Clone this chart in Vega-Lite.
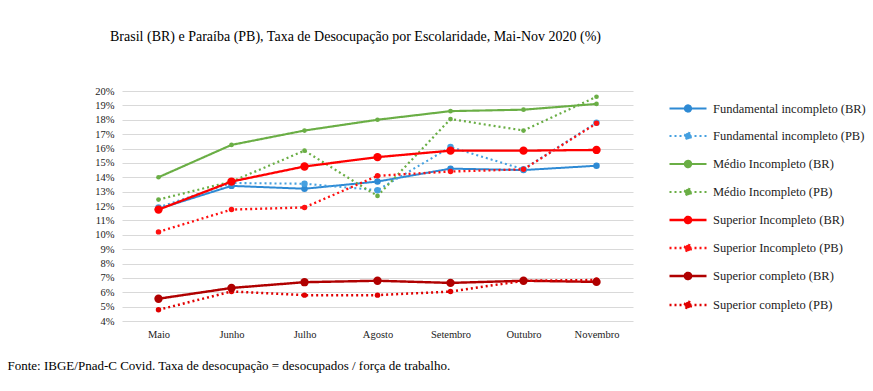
{
  "$schema": "https://vega.github.io/schema/vega-lite/v6.json",
  "width": 511,
  "height": 230,
  "autosize": {"type": "none"},
  "padding": {"left": 122, "top": 91, "right": 240, "bottom": 70},
  "background": "white",
  "title": {
    "text": "Brasil (BR) e Paraíba (PB), Taxa de Desocupação por Escolaridade, Mai-Nov 2020 (%)",
    "anchor": "middle",
    "frame": "group",
    "dx": -22,
    "offset": 42,
    "font": "Liberation Serif",
    "fontSize": 14,
    "fontWeight": "normal",
    "color": "#000000"
  },
  "config": {
    "view": {"stroke": null},
    "font": "Liberation Serif"
  },
  "data": {
    "values": [
      {"mes": "Maio", "serie": "Fundamental incompleto (BR)", "v": 11.8},
      {"mes": "Junho", "serie": "Fundamental incompleto (BR)", "v": 13.4},
      {"mes": "Julho", "serie": "Fundamental incompleto (BR)", "v": 13.2},
      {"mes": "Agosto", "serie": "Fundamental incompleto (BR)", "v": 13.7},
      {"mes": "Setembro", "serie": "Fundamental incompleto (BR)", "v": 14.6},
      {"mes": "Outubro", "serie": "Fundamental incompleto (BR)", "v": 14.5},
      {"mes": "Novembro", "serie": "Fundamental incompleto (BR)", "v": 14.8},
      {"mes": "Maio", "serie": "Fundamental incompleto (PB)", "v": 11.9},
      {"mes": "Junho", "serie": "Fundamental incompleto (PB)", "v": 13.6},
      {"mes": "Julho", "serie": "Fundamental incompleto (PB)", "v": 13.55},
      {"mes": "Agosto", "serie": "Fundamental incompleto (PB)", "v": 13.1},
      {"mes": "Setembro", "serie": "Fundamental incompleto (PB)", "v": 16.1},
      {"mes": "Outubro", "serie": "Fundamental incompleto (PB)", "v": 14.55},
      {"mes": "Novembro", "serie": "Fundamental incompleto (PB)", "v": 17.8},
      {"mes": "Maio", "serie": "Médio Incompleto (BR)", "v": 14.0},
      {"mes": "Junho", "serie": "Médio Incompleto (BR)", "v": 16.25},
      {"mes": "Julho", "serie": "Médio Incompleto (BR)", "v": 17.25},
      {"mes": "Agosto", "serie": "Médio Incompleto (BR)", "v": 18.0},
      {"mes": "Setembro", "serie": "Médio Incompleto (BR)", "v": 18.6},
      {"mes": "Outubro", "serie": "Médio Incompleto (BR)", "v": 18.7},
      {"mes": "Novembro", "serie": "Médio Incompleto (BR)", "v": 19.1},
      {"mes": "Maio", "serie": "Médio Incompleto (PB)", "v": 12.45},
      {"mes": "Junho", "serie": "Médio Incompleto (PB)", "v": 13.7},
      {"mes": "Julho", "serie": "Médio Incompleto (PB)", "v": 15.85},
      {"mes": "Agosto", "serie": "Médio Incompleto (PB)", "v": 12.7},
      {"mes": "Setembro", "serie": "Médio Incompleto (PB)", "v": 18.05},
      {"mes": "Outubro", "serie": "Médio Incompleto (PB)", "v": 17.25},
      {"mes": "Novembro", "serie": "Médio Incompleto (PB)", "v": 19.6},
      {"mes": "Maio", "serie": "Superior Incompleto (BR)", "v": 11.75},
      {"mes": "Junho", "serie": "Superior Incompleto (BR)", "v": 13.7},
      {"mes": "Julho", "serie": "Superior Incompleto (BR)", "v": 14.75},
      {"mes": "Agosto", "serie": "Superior Incompleto (BR)", "v": 15.4},
      {"mes": "Setembro", "serie": "Superior Incompleto (BR)", "v": 15.85},
      {"mes": "Outubro", "serie": "Superior Incompleto (BR)", "v": 15.85},
      {"mes": "Novembro", "serie": "Superior Incompleto (BR)", "v": 15.9},
      {"mes": "Maio", "serie": "Superior Incompleto (PB)", "v": 10.2},
      {"mes": "Junho", "serie": "Superior Incompleto (PB)", "v": 11.75},
      {"mes": "Julho", "serie": "Superior Incompleto (PB)", "v": 11.9},
      {"mes": "Agosto", "serie": "Superior Incompleto (PB)", "v": 14.1},
      {"mes": "Setembro", "serie": "Superior Incompleto (PB)", "v": 14.4},
      {"mes": "Outubro", "serie": "Superior Incompleto (PB)", "v": 14.55},
      {"mes": "Novembro", "serie": "Superior Incompleto (PB)", "v": 17.75},
      {"mes": "Maio", "serie": "Superior completo (BR)", "v": 5.55},
      {"mes": "Junho", "serie": "Superior completo (BR)", "v": 6.3},
      {"mes": "Julho", "serie": "Superior completo (BR)", "v": 6.7},
      {"mes": "Agosto", "serie": "Superior completo (BR)", "v": 6.8},
      {"mes": "Setembro", "serie": "Superior completo (BR)", "v": 6.65},
      {"mes": "Outubro", "serie": "Superior completo (BR)", "v": 6.8},
      {"mes": "Novembro", "serie": "Superior completo (BR)", "v": 6.72},
      {"mes": "Maio", "serie": "Superior completo (PB)", "v": 4.78},
      {"mes": "Junho", "serie": "Superior completo (PB)", "v": 6.05},
      {"mes": "Julho", "serie": "Superior completo (PB)", "v": 5.8},
      {"mes": "Agosto", "serie": "Superior completo (PB)", "v": 5.8},
      {"mes": "Setembro", "serie": "Superior completo (PB)", "v": 6.05},
      {"mes": "Outubro", "serie": "Superior completo (PB)", "v": 6.8},
      {"mes": "Novembro", "serie": "Superior completo (PB)", "v": 6.85}
    ]
  },
  "encoding": {
    "x": {
      "field": "mes",
      "type": "nominal",
      "sort": ["Maio", "Junho", "Julho", "Agosto", "Setembro", "Outubro", "Novembro"],
      "scale": {"paddingInner": 0, "paddingOuter": 0},
      "axis": {
        "title": "Fonte: IBGE/Pnad-C Covid. Taxa de desocupação = desocupados / força de trabalho.",
        "titleFont": "Liberation Serif",
        "titleFontSize": 13,
        "titleFontWeight": "normal",
        "titleColor": "#000000",
        "titleAnchor": "start",
        "titleAlign": "left",
        "titleX": -115,
        "titleY": 38,
        "labelAngle": 0,
        "labelFont": "Liberation Serif",
        "labelFontSize": 10.5,
        "labelColor": "#222222",
        "labelPadding": 8,
        "ticks": false,
        "domain": false,
        "grid": false
      }
    },
    "y": {
      "field": "v",
      "type": "quantitative",
      "scale": {"domain": [4, 20], "nice": false, "zero": false},
      "axis": {
        "title": null,
        "values": [4,5,6,7,8,9,10,11,12,13,14,15,16,17,18,19,20],
        "labelExpr": "datum.value + '%'",
        "labelFont": "Liberation Serif",
        "labelFontSize": 10.5,
        "labelColor": "#222222",
        "labelPadding": 8,
        "ticks": false,
        "domain": false,
        "grid": true,
        "gridColor": "#d9d9d9",
        "gridWidth": 1
      }
    },
    "color": {
      "field": "serie",
      "type": "nominal",
      "sort": null,
      "scale": {
        "domain": ["Fundamental incompleto (BR)", "Fundamental incompleto (PB)", "Médio Incompleto (BR)", "Médio Incompleto (PB)", "Superior Incompleto (BR)", "Superior Incompleto (PB)", "Superior completo (BR)", "Superior completo (PB)"],
        "range": ["#2E8AD4", "#45A0E0", "#6AAE45", "#6AAE45", "#FF0000", "#FF1010", "#B00000", "#E00000"]
      },
      "legend": {
        "title": null,
        "orient": "none",
        "legendX": 546,
        "legendY": -2,
        "labelFont": "Liberation Serif",
        "labelFontSize": 12.5,
        "labelColor": "#222222",
        "symbolType": "M-1,0H1M-0.17,0A0.17,0.17 0 1,1 0.17,0A0.17,0.17 0 1,1 -0.17,0",
        "symbolSize": 1369,
        "symbolStrokeWidth": 2,
        "rowPadding": -7,
        "labelOffset": 5,
        "encode": {
          "symbols": {
            "update": {
              "fill": {"scale": "color", "field": "value"}
            }
          }
        }
      }
    }
  },
  "layer": [
    {
      "mark": {"type": "line"},
      "encoding": {
        "strokeDash": {
          "field": "serie",
          "type": "nominal",
          "sort": null,
          "scale": {
            "domain": ["Fundamental incompleto (BR)", "Fundamental incompleto (PB)", "Médio Incompleto (BR)", "Médio Incompleto (PB)", "Superior Incompleto (BR)", "Superior Incompleto (PB)", "Superior completo (BR)", "Superior completo (PB)"],
            "range": [[1,0], [2,3], [1,0], [2,3], [1,0], [2,3], [1,0], [2,3]]
          }
        },
        "strokeWidth": {
          "field": "serie",
          "type": "nominal",
          "sort": null,
          "legend": null,
          "scale": {
            "domain": ["Fundamental incompleto (BR)", "Fundamental incompleto (PB)", "Médio Incompleto (BR)", "Médio Incompleto (PB)", "Superior Incompleto (BR)", "Superior Incompleto (PB)", "Superior completo (BR)", "Superior completo (PB)"],
            "range": [2, 2.5, 1.5, 2.5, 2.5, 3, 2.5, 3]
          }
        }
      }
    },
    {
      "transform": [{"filter": {"field": "serie", "oneOf": ["Fundamental incompleto (BR)", "Fundamental incompleto (PB)"]}}],
      "mark": {"type": "point", "filled": true, "opacity": 1, "size": 42}
    },
    {
      "transform": [{"filter": {"field": "serie", "oneOf": ["Médio Incompleto (BR)", "Médio Incompleto (PB)"]}}],
      "mark": {"type": "point", "filled": true, "opacity": 1, "size": 22}
    },
    {
      "transform": [{"filter": {"field": "serie", "oneOf": ["Superior Incompleto (PB)", "Superior completo (PB)"]}}],
      "mark": {"type": "point", "filled": true, "opacity": 1, "size": 30}
    },
    {
      "transform": [{"filter": {"field": "serie", "oneOf": ["Superior Incompleto (BR)", "Superior completo (BR)"]}}],
      "mark": {"type": "point", "filled": true, "opacity": 1, "size": 70}
    }
  ]
}
